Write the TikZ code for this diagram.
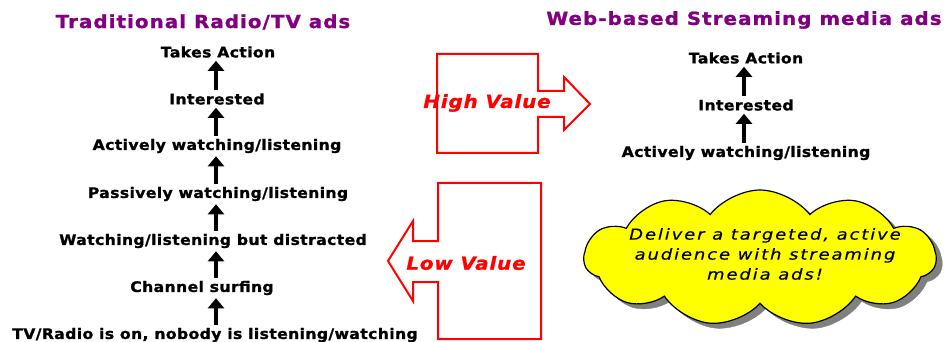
\documentclass[tikz,border=0pt]{standalone}
\usepackage{fontspec}
\setmainfont{DejaVu Sans}
\newfontfamily\lblfont{DejaVu Sans}[FakeStretch=1.08, LetterSpace=2.5, FakeBold=1.2]
\newfontfamily\ttlfont{DejaVu Sans}[FakeStretch=1.1, LetterSpace=6, FakeBold=1.2]
\newfontfamily\redfont{DejaVu Sans}[FakeStretch=1.1, LetterSpace=5, FakeBold=1.2]
\newfontfamily\cloudfont{DejaVu Sans}[FakeStretch=1.2, LetterSpace=12.5, FakeBold=0.4]
\usetikzlibrary{shapes.symbols,arrows.meta}
\definecolor{ttlcol}{RGB}{128,0,128}
\definecolor{cloudfill}{RGB}{255,255,0}
\definecolor{shadowgray}{RGB}{128,128,128}
\tikzset{
  lbl/.style={font=\lblfont\fontsize{14.5}{16}\selectfont\bfseries, inner sep=1pt},
  ttl/.style={font=\ttlfont\fontsize{18}{20}\selectfont\bfseries, text=ttlcol, inner sep=0pt},
  uparrow/.style={line width=4pt, -{Triangle[width=16pt,length=10pt]}, shorten <=2pt, shorten >=2pt},
  redshape/.style={draw=red, line width=2pt, line join=miter},
  redtxt/.style={font=\redfont\fontsize{18}{20}\selectfont\bfseries\itshape, text=red, inner sep=0pt},
  cloudbox/.style={cloud, cloud puffs=11, cloud puff arc=105, cloud ignores aspect,
    minimum width=352pt, minimum height=136pt, inner sep=0pt},
  cloudtxt/.style={font=\cloudfont\fontsize{15}{20}\selectfont\itshape, align=center},
}
\begin{document}
\begin{tikzpicture}[x=1pt,y=-1pt]
\useasboundingbox (0,0) rectangle (946,342);

% titles
\node[ttl] (t1) at (203,22) {Traditional Radio/TV ads};
\node[ttl] (t2) at (744,20) {Web-based Streaming media ads};

% left column
\coordinate (ax) at (216,0);
\node[lbl] (a1) at (218,52) {Takes Action};
\node[lbl] (a2) at (217,99) {Interested};
\node[lbl] (a3) at (217,146) {Actively watching/listening};
\node[lbl] (a4) at (218,194) {Passively watching/listening};
\node[lbl] (a5) at (213,241) {Watching/listening but distracted};
\node[lbl] (a6) at (202,288) {Channel surfing};
\node[lbl] (a7) at (215,335) {TV/Radio is on, nobody is listening/watching};
\foreach \lo/\hi in {a7/a6,a6/a5,a5/a4,a4/a3,a3/a2,a2/a1}
  \draw[uparrow] (\lo.north -| ax) -- (\hi.south -| ax);

% right column
\coordinate (bx) at (744,0);
\node[lbl] (b1) at (746,58) {Takes Action};
\node[lbl] (b2) at (746,105) {Interested};
\node[lbl] (b3) at (746,153) {Actively watching/listening};
\foreach \lo/\hi in {b3/b2,b2/b1}
  \draw[uparrow] (\lo.north -| bx) -- (\hi.south -| bx);

% high value arrow
\draw[redshape] (437,54) -- (538,54) -- (538,91) -- (564,91) -- (564,77) -- (590,104)
  -- (564,130) -- (564,117) -- (538,117) -- (538,153) -- (437,153) -- cycle;
\node[redtxt] (hv) at (487,103) {High Value};

% low value arrow
\draw[redshape] (438,183) -- (541,183) -- (541,339) -- (438,339) -- (438,282) -- (413,282)
  -- (413,301) -- (388,261) -- (413,221) -- (413,241) -- (438,241) -- cycle;
\node[redtxt] (lv) at (466,263) {Low Value};

% cloud
\node[cloudbox, fill=shadowgray, draw=shadowgray] (cs) at (766,263) {};
\node[cloudbox, fill=cloudfill, draw=black, line width=1.2pt] (cl) at (760,258) {};
\node[cloudtxt] (ct) at (765,254) {Deliver a targeted, active\\audience with streaming\\media ads!};
\end{tikzpicture}
\end{document}
